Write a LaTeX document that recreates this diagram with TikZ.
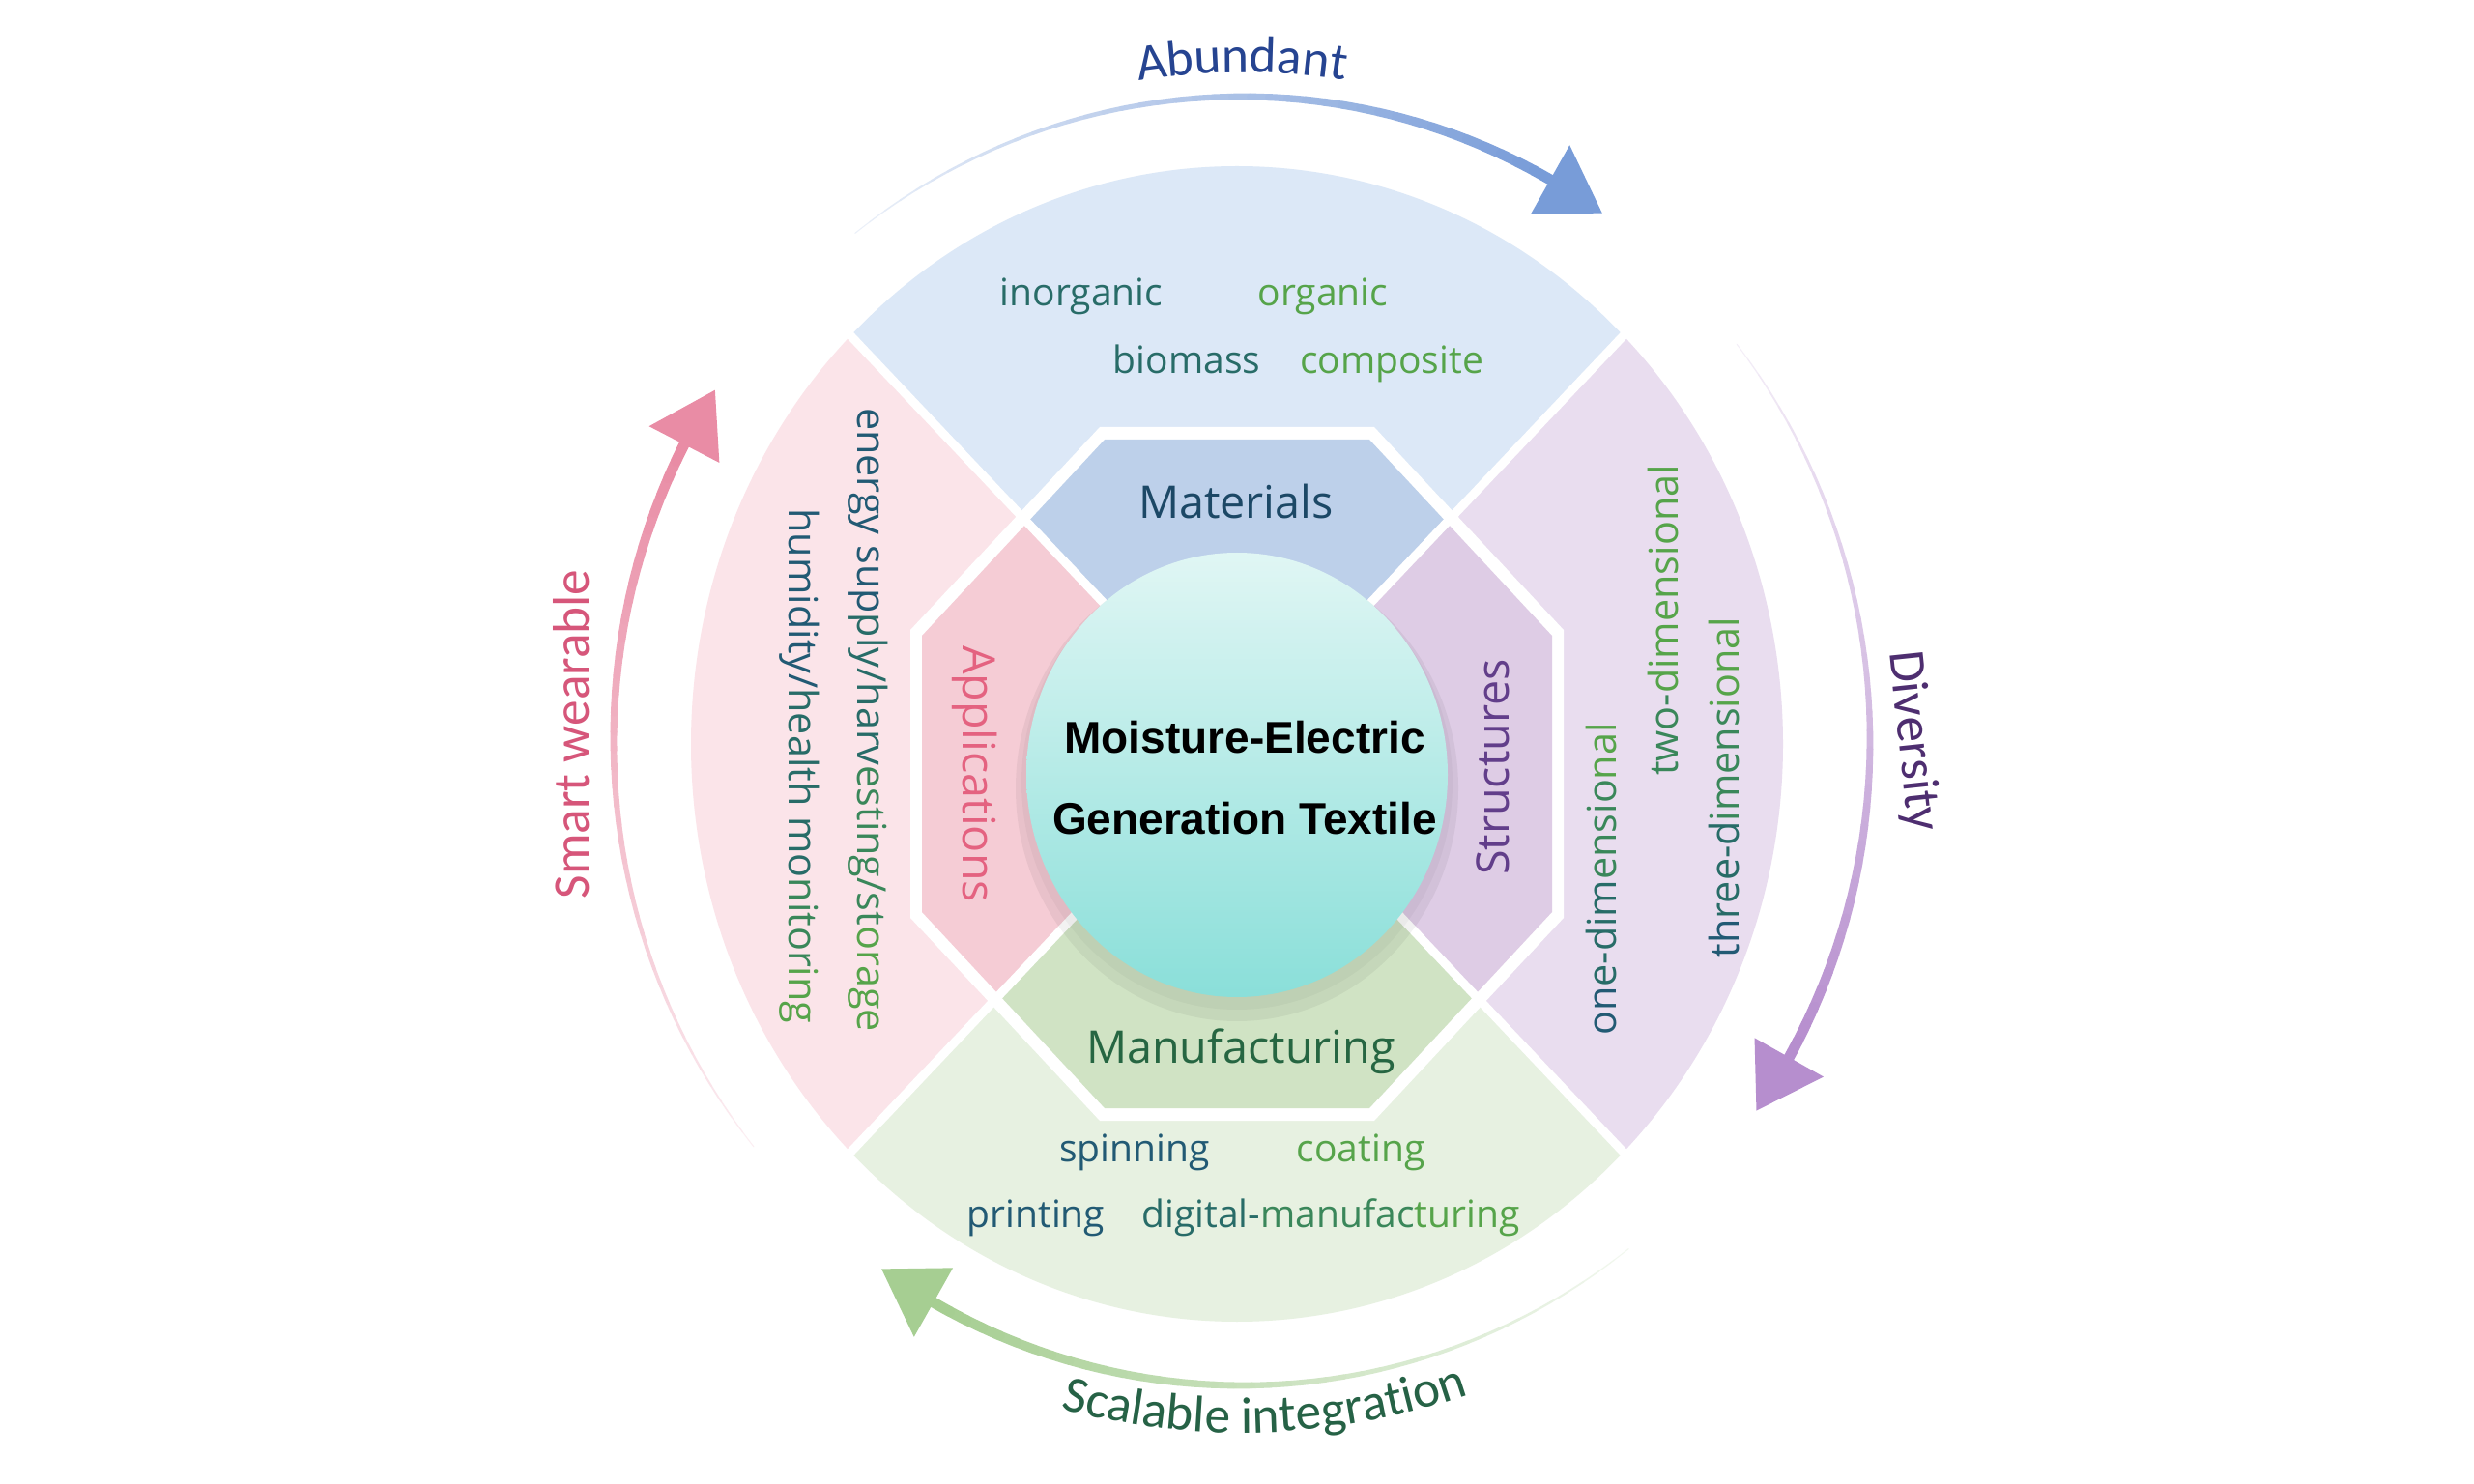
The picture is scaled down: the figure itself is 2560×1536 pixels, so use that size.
\documentclass[tikz,border=0pt]{standalone}
\usepackage{fontspec}
\setmainfont{Open Sans}
\newfontfamily\arrowfont{Carlito}
\newfontfamily\centerfont{Liberation Sans}
\usetikzlibrary{decorations.text}

\definecolor{secBlue}{RGB}{220,232,247}
\definecolor{secPurple}{RGB}{233,221,239}
\definecolor{secGreen}{RGB}{231,241,225}
\definecolor{secPink}{RGB}{251,228,233}
\definecolor{inBlue}{RGB}{189,208,234}
\definecolor{inPurple}{RGB}{222,204,229}
\definecolor{inGreen}{RGB}{208,227,196}
\definecolor{inPink}{RGB}{245,204,213}
\definecolor{circTop}{RGB}{224,246,244}
\definecolor{circMid}{RGB}{186,236,232}
\definecolor{circBot}{RGB}{138,223,217}
\definecolor{matCol}{RGB}{28,72,102}
\definecolor{manCol}{RGB}{38,102,66}
\definecolor{appCol}{RGB}{228,98,128}
\definecolor{strCol}{RGB}{98,62,138}
\definecolor{abCol}{RGB}{38,68,145}
\definecolor{dvCol}{RGB}{78,46,112}
\definecolor{scCol}{RGB}{38,98,70}
\definecolor{swCol}{RGB}{214,86,122}
\definecolor{abArrow}{RGB}{120,156,216}
\definecolor{dvArrow}{RGB}{182,142,206}
\definecolor{scArrow}{RGB}{166,206,146}
\definecolor{swArrow}{RGB}{233,140,165}
\definecolor{gA}{RGB}{34,90,116}
\definecolor{gB}{RGB}{40,108,104}
\definecolor{gC}{RGB}{58,135,90}
\definecolor{gD}{RGB}{86,164,74}

\newcommand{\gradfour}[4]{{\color{gA}#1}{\color{gB}#2}{\color{gC}#3}{\color{gD}#4}}

% tapered arc arrow around (1285,-767): start angle, end angle, colour
\newcommand{\arcarrow}[3]{%
  \foreach \i in {0,...,39}{%
    \pgfmathsetmacro{\aa}{#1+(#2+5.6-(#1))*\i/40}%
    \pgfmathsetmacro{\ab}{#1+(#2+5.6-(#1))*(\i+1)/40}%
    \pgfmathsetmacro{\w}{0.3*(1+10*\i/39)}%
    \pgfmathsetmacro{\pc}{15+85*\i/39}%
    \draw[line width=\w pt, color=#3!\pc!white, line cap=round]
      (\aa:650 and 667) arc[start angle=\aa, end angle=\ab, x radius=650, y radius=667];
  }%
  \fill[#3] (#2:650 and 667) -- ({#2+5.6}:691 and 708) -- ({#2+5.6}:609 and 626) -- cycle;
}

\begin{document}
\begin{tikzpicture}[x=0.3pt,y=0.3pt,
  hd/.style={font=\fontsize{14}{16}\selectfont, inner sep=0pt},
  item/.style={font=\fontsize{11.7}{14}\selectfont, inner sep=0pt, anchor=base},
  side/.style={font=\fontsize{12.4}{15}\selectfont, inner sep=0pt},
  ctr/.style={font=\centerfont\bfseries\fontsize{13.8}{16}\selectfont, inner sep=0pt, anchor=base},
  arr/.style={font=\arrowfont\fontsize{16}{19}\selectfont, inner sep=0pt},
  sepline/.style={white, line width=2.7pt}]

\useasboundingbox (0,0) rectangle (2560,-1536);
\fill[white] (0,0) rectangle (2560,-1536);

% ---- outer sectors ----
\coordinate (O) at (1280,-770);
\begin{scope}[shift={(1280,-770)}]
  \fill[secBlue] (0,0) -- (135:565 and 598) arc[start angle=135, end angle=45, x radius=565, y radius=598] -- cycle;
  \fill[secPurple] (0,0) -- (45:565 and 598) arc[start angle=45, end angle=-45, x radius=565, y radius=598] -- cycle;
  \fill[secGreen] (0,0) -- (-45:565 and 598) arc[start angle=-45, end angle=-135, x radius=565, y radius=598] -- cycle;
  \fill[secPink] (0,0) -- (-135:565 and 598) arc[start angle=-135, end angle=-225, x radius=565, y radius=598] -- cycle;
\end{scope}

% ---- octagon ----
\fill[white] (1138,-442) -- (1422,-442) -- (1618,-652) -- (1618,-950) -- (1422,-1160)
  -- (1138,-1160) -- (942,-950) -- (942,-652) -- cycle;
\begin{scope}
  \clip (1143,-455) -- (1417,-455) -- (1606,-658) -- (1606,-944) -- (1417,-1147)
    -- (1143,-1147) -- (954,-944) -- (954,-658) -- cycle;
  \fill[inBlue] (O) -- ++(-800,846) -- ++(1600,0) -- cycle;
  \fill[inPurple] (O) -- ++(800,846) -- ++(0,-1692) -- cycle;
  \fill[inGreen] (O) -- ++(800,-846) -- ++(-1600,0) -- cycle;
  \fill[inPink] (O) -- ++(-800,-846) -- ++(0,1692) -- cycle;
\end{scope}

% ---- separating white lines ----
\draw[sepline] (O) -- ++(405,428);
\draw[sepline] (O) -- ++(-405,428);
\draw[sepline] (O) -- ++(405,-428);
\draw[sepline] (O) -- ++(-405,-428);

% ---- central circle ----
\fill[black, opacity=0.05] (1280,-816) ellipse [x radius=229, y radius=241];
\fill[black, opacity=0.03] (1280,-810) ellipse [x radius=223, y radius=235];
\shade[top color=circTop, middle color=circMid, bottom color=circBot]
  (1280,-802) ellipse [x radius=218, y radius=230];
\node[ctr] (c1) at (1288,-780) {Moisture-Electric};
\node[ctr] (c2) at (1288,-863) {Generation Textile};

% ---- inner labels ----
\node[hd, text=matCol, anchor=base] (mat) at (1279,-537) {Materials};
\node[hd, text=manCol, anchor=base] (man) at (1284,-1100) {Manufacturing};
\node[hd, text=appCol, rotate=-90] (app) at (1009,-801) {Applications};
\node[hd, text=strCol, rotate=90] (str) at (1545,-794) {Structures};

% ---- outer items ----
\node[item, text=gB] (i1) at (1119,-317) {inorganic};
\node[item, text=gD] (i2) at (1369,-317) {organic};
\node[item, text=gB] (i3) at (1228,-387) {biomass};
\node[item, text=gD] (i4) at (1440,-387) {composite};

\node[item, text=gA] (m1) at (1174,-1202) {spinning};
\node[item, text=gD] (m2) at (1408,-1202) {coating};
\node[item, text=gA] (m3) at (1072,-1270) {printing};
\node[item] (m4) at (1377,-1270) {{\color{gB}digital-}{\color{gC}manufac}{\color{gD}turing}};

\node[side, rotate=-90] (a1) at (898,-745) {\gradfour{energy sup}{ply/harv}{esting/st}{orage}};
\node[side, rotate=-90] (a2) at (827,-793) {\gradfour{humidity/}{health mo}{nitor}{ing}};

\node[side, rotate=90] (s1) at (1657,-910) {\gradfour{on}{e-dim}{ensio}{nal}};
\node[side, rotate=90] (s2) at (1721,-642) {{\color{gC}two-}{\color{gD}dimensional}};
\node[side, rotate=90] (s3) at (1784,-815) {\gradfour{th}{ree-d}{imens}{ional}};

% ---- cyclic arrows ----
\begin{scope}[shift={(1285,-767)}]
  \arcarrow{128}{55}{abArrow}
  \arcarrow{38}{-35}{dvArrow}
  \arcarrow{-52}{-125}{scArrow}
  \arcarrow{-141}{-213}{swArrow}
  \path[decorate, decoration={text along path, text align=center,
     text={|\arrowfont\fontsize{16}{19}\selectfont\color{abCol}|Abundant}}]
     (105:692) arc[start angle=105, end angle=75, radius=692];
  \path[decorate, decoration={text along path, text align=center,
     text={|\arrowfont\fontsize{16}{19}\selectfont\color{scCol}|Scalable integration}}]
     (-118:716) arc[start angle=-118, end angle=-58, radius=716];
\end{scope}
\node[arr, text=dvCol, rotate=-84] (dv) at (1979,-767) {Diversity};
\node[arr, text=swCol, rotate=90] (sw) at (591,-760) {Smart wearable};

\end{tikzpicture}
\end{document}
